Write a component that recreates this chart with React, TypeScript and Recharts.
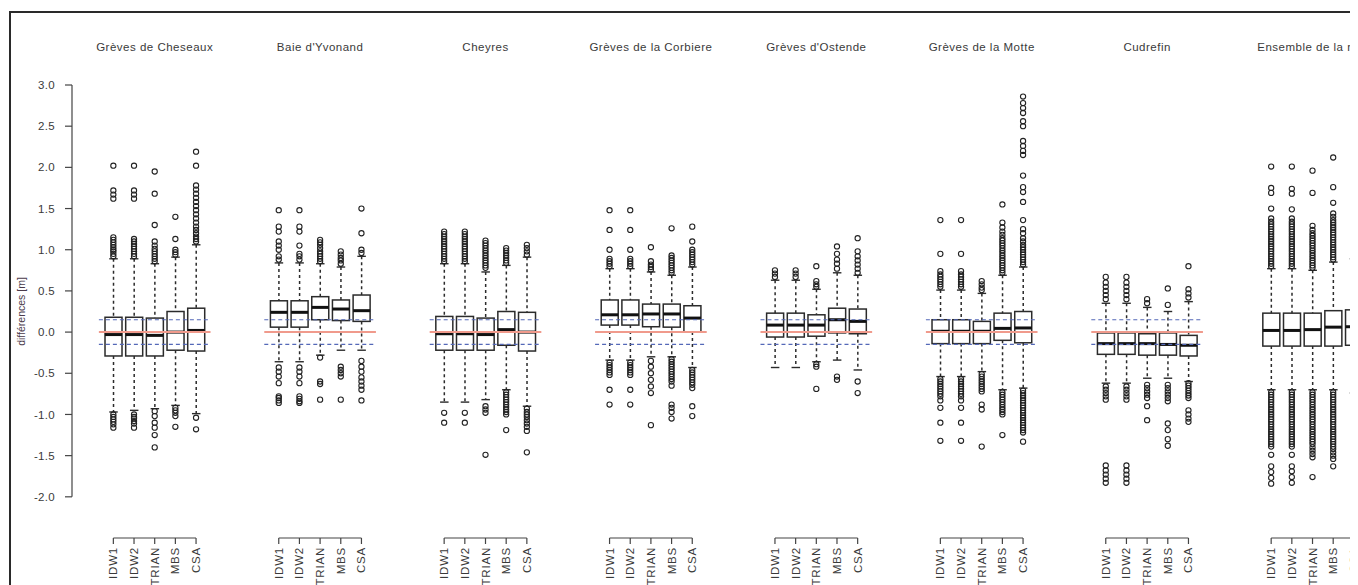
import { ComposedChart, Bar, Scatter, XAxis, YAxis, ReferenceLine } from "recharts";

const sites = [
  "Grèves de Cheseaux",
  "Baie d'Yvonand",
  "Cheyres",
  "Grèves de la Corbiere",
  "Grèves d'Ostende",
  "Grèves de la Motte",
  "Cudrefin",
  "Ensemble de la rive",
];
const methods = ["IDW1", "IDW2", "TRIAN", "MBS", "CSA"];
const yTicks = [-2, -1.5, -1, -0.5, 0, 0.5, 1, 1.5, 2, 2.5, 3];
const tolerance = 0.15;

// [lower whisker, Q1, median, Q3, upper whisker] for IDW1, IDW2, TRIAN, MBS, CSA
const cheseauxBoxes = [
  [-0.97, -0.29, -0.03, 0.18, 0.89],
  [-0.95, -0.29, -0.03, 0.18, 0.89],
  [-0.93, -0.29, -0.04, 0.17, 0.83],
  [-0.89, -0.22, 0.0, 0.25, 0.91],
  [-0.99, -0.23, 0.02, 0.29, 1.06],
];
const yvonandBoxes = [
  [-0.36, 0.06, 0.24, 0.38, 0.84],
  [-0.36, 0.06, 0.24, 0.38, 0.84],
  [-0.28, 0.15, 0.3, 0.43, 0.83],
  [-0.22, 0.14, 0.28, 0.39, 0.79],
  [-0.22, 0.13, 0.26, 0.45, 0.92],
];
const cheyresBoxes = [
  [-0.85, -0.22, -0.02, 0.19, 0.83],
  [-0.85, -0.22, -0.02, 0.19, 0.83],
  [-0.82, -0.22, -0.03, 0.17, 0.73],
  [-0.7, -0.16, 0.03, 0.25, 0.81],
  [-0.9, -0.23, 0.0, 0.24, 0.91],
];
const corbiereBoxes = [
  [-0.34, 0.085, 0.21, 0.39, 0.77],
  [-0.34, 0.085, 0.21, 0.39, 0.77],
  [-0.3, 0.065, 0.22, 0.34, 0.73],
  [-0.3, 0.06, 0.22, 0.34, 0.69],
  [-0.43, 0.0, 0.17, 0.32, 0.79],
];
const ostendeBoxes = [
  [-0.43, -0.06, 0.085, 0.23, 0.63],
  [-0.43, -0.06, 0.085, 0.23, 0.63],
  [-0.36, -0.05, 0.085, 0.21, 0.52],
  [-0.34, -0.01, 0.15, 0.29, 0.72],
  [-0.46, -0.02, 0.13, 0.28, 0.69],
];
const motteBoxes = [
  [-0.54, -0.14, 0.01, 0.15, 0.51],
  [-0.54, -0.14, 0.01, 0.15, 0.51],
  [-0.48, -0.14, 0.01, 0.13, 0.47],
  [-0.7, -0.1, 0.045, 0.23, 0.69],
  [-0.68, -0.13, 0.05, 0.25, 0.79],
];
const cudrefinBoxes = [
  [-0.62, -0.27, -0.14, -0.01, 0.35],
  [-0.62, -0.27, -0.14, -0.01, 0.35],
  [-0.56, -0.28, -0.14, -0.02, 0.3],
  [-0.56, -0.28, -0.15, -0.01, 0.25],
  [-0.6, -0.29, -0.16, -0.04, 0.37],
];
const ensembleBoxes = [
  [-0.7, -0.17, 0.02, 0.23, 0.77],
  [-0.7, -0.17, 0.02, 0.23, 0.77],
  [-0.7, -0.17, 0.03, 0.23, 0.75],
  [-0.7, -0.17, 0.06, 0.26, 0.85],
  [-0.74, -0.16, 0.065, 0.27, 0.89],
];

// outliers, same method order
const cheseauxOut = [
  [0.92, 0.95, 0.98, 1.0, 1.03, 1.06, 1.09, 1.12, 1.15, 1.62, 1.67, 1.72, 2.02, -1.0, -1.03, -1.06, -1.09, -1.12, -1.16],
  [0.92, 0.95, 0.98, 1.01, 1.04, 1.07, 1.1, 1.13, 1.62, 1.67, 1.72, 2.02, -1.0, -1.03, -1.05, -1.08, -1.11, -1.16],
  [0.86, 0.89, 0.92, 0.95, 0.98, 1.01, 1.05, 1.1, 1.3, 1.68, 1.95, -0.96, -1.02, -1.1, -1.16, -1.25, -1.4],
  [0.94, 0.97, 1.0, 1.13, 1.4, -0.92, -0.95, -0.98, -1.02, -1.15],
  [1.1, 1.13, 1.16, 1.2, 1.24, 1.28, 1.33, 1.38, 1.43, 1.48, 1.53, 1.58, 1.63, 1.68, 1.73, 1.78, 2.02, 2.19, -1.04, -1.18],
];
const yvonandOut = [
  [0.88, 0.92, 1.0, 1.05, 1.1, 1.22, 1.28, 1.48, -0.43, -0.48, -0.54, -0.62, -0.78, -0.8, -0.83, -0.86],
  [0.88, 0.92, 0.95, 1.05, 1.22, 1.28, 1.48, -0.43, -0.48, -0.54, -0.62, -0.78, -0.81, -0.84, -0.86],
  [0.86, 0.89, 0.92, 0.95, 0.98, 1.02, 1.06, 1.09, 1.12, -0.31, -0.6, -0.63, -0.82],
  [0.83, 0.87, 0.9, 0.94, 0.98, -0.42, -0.46, -0.5, -0.54, -0.82],
  [0.96, 1.0, 1.2, 1.5, -0.35, -0.42, -0.48, -0.55, -0.6, -0.65, -0.7, -0.83],
];
const cheyresOut = [
  [0.86, 0.89, 0.92, 0.95, 0.98, 1.01, 1.04, 1.07, 1.1, 1.13, 1.16, 1.19, 1.22, -0.98, -1.1],
  [0.86, 0.89, 0.92, 0.95, 0.98, 1.01, 1.04, 1.07, 1.1, 1.13, 1.16, 1.19, 1.22, -0.98, -1.1],
  [0.78, 0.81, 0.84, 0.87, 0.9, 0.93, 0.96, 0.99, 1.02, 1.05, 1.08, 1.11, -0.9, -0.94, -0.98, -1.49],
  [0.84, 0.87, 0.9, 0.93, 0.96, 0.99, 1.02, -0.73, -0.76, -0.79, -0.82, -0.85, -0.88, -0.91, -0.94, -0.97, -1.0, -1.19],
  [0.94, 0.98, 1.02, 1.06, -0.93, -0.97, -1.0, -1.03, -1.07, -1.11, -1.15, -1.2, -1.46],
];
const corbiereOut = [
  [0.8, 0.83, 0.86, 0.89, 1.0, 1.24, 1.48, -0.37, -0.4, -0.43, -0.46, -0.49, -0.52, -0.7, -0.88],
  [0.8, 0.83, 0.86, 0.89, 1.0, 1.24, 1.48, -0.37, -0.4, -0.43, -0.46, -0.49, -0.52, -0.7, -0.88],
  [0.76, 0.79, 0.82, 0.86, 1.03, -0.35, -0.42, -0.5, -0.58, -0.66, -0.74, -1.13],
  [0.72, 0.75, 0.78, 0.81, 0.84, 0.87, 0.9, 0.93, 1.26, -0.33, -0.36, -0.39, -0.42, -0.45, -0.48, -0.51, -0.54, -0.57, -0.6, -0.65, -0.88, -0.92, -0.97, -1.05],
  [0.82, 0.85, 0.88, 0.91, 0.94, 0.97, 1.0, 1.1, 1.28, -0.46, -0.49, -0.52, -0.55, -0.58, -0.61, -0.64, -0.68, -0.9, -1.02],
];
const ostendeOut = [
  [0.67, 0.71, 0.75],
  [0.67, 0.71, 0.75],
  [0.55, 0.58, 0.62, 0.8, -0.39, -0.42, -0.69],
  [0.77, 0.83, 0.88, 0.95, 1.04, -0.54, -0.58],
  [0.72, 0.77, 0.82, 0.87, 0.92, 0.98, 1.14, -0.6, -0.74],
];
const motteOut = [
  [0.55, 0.58, 0.61, 0.64, 0.67, 0.7, 0.74, 0.95, 1.36, -0.57, -0.6, -0.63, -0.66, -0.69, -0.72, -0.75, -0.78, -0.83, -0.92, -1.1, -1.32],
  [0.55, 0.58, 0.61, 0.64, 0.67, 0.7, 0.74, 0.95, 1.36, -0.57, -0.6, -0.63, -0.66, -0.69, -0.72, -0.75, -0.78, -0.83, -0.92, -1.1, -1.32],
  [0.51, 0.54, 0.58, 0.62, -0.51, -0.54, -0.57, -0.6, -0.63, -0.66, -0.69, -0.72, -0.88, -0.94, -1.39],
  [0.72, 0.75, 0.78, 0.81, 0.84, 0.87, 0.9, 0.93, 0.96, 0.99, 1.02, 1.05, 1.08, 1.11, 1.14, 1.18, 1.22, 1.27, 1.33, 1.55,
    -0.73, -0.76, -0.79, -0.82, -0.85, -0.88, -0.91, -0.94, -0.97, -1.0, -1.25],
  [0.82, 0.85, 0.88, 0.91, 0.94, 0.97, 1.0, 1.03, 1.06, 1.1, 1.14, 1.2, 1.25, 1.36, 1.58, 1.7, 1.76, 1.9, 2.15, 2.2, 2.26, 2.32, 2.5, 2.56, 2.66, 2.72, 2.78, 2.86,
    -0.71, -0.74, -0.77, -0.8, -0.83, -0.86, -0.89, -0.92, -0.95, -0.98, -1.01, -1.04, -1.07, -1.1, -1.13, -1.16, -1.19, -1.22, -1.33],
];
const cudrefinOut = [
  [0.4, 0.45, 0.5, 0.55, 0.6, 0.67, -0.66, -0.7, -0.74, -0.78, -0.82, -1.62, -1.68, -1.73, -1.78, -1.83],
  [0.4, 0.45, 0.5, 0.55, 0.6, 0.67, -0.66, -0.7, -0.74, -0.78, -0.82, -1.62, -1.68, -1.73, -1.78, -1.83],
  [0.35, 0.4, -0.64, -0.68, -0.72, -0.76, -0.8, -0.9, -1.07],
  [0.33, 0.53, -0.64, -0.68, -0.72, -0.76, -0.8, -0.84, -1.11, -1.19, -1.3, -1.38],
  [0.42, 0.47, 0.52, 0.8, -0.62, -0.65, -0.68, -0.71, -0.74, -0.77, -0.8, -0.95, -1.0, -1.05, -1.09],
];
const ensembleOut = [
  [0.8, 0.83, 0.86, 0.89, 0.92, 0.95, 0.98, 1.01, 1.04, 1.07, 1.1, 1.13, 1.16, 1.19, 1.22, 1.25, 1.28, 1.31, 1.34, 1.38, 1.5, 1.69, 1.75, 2.01,
    -0.73, -0.76, -0.79, -0.82, -0.85, -0.88, -0.91, -0.94, -0.97, -1.0, -1.03, -1.06, -1.09, -1.12, -1.15, -1.18, -1.21, -1.24, -1.27, -1.3, -1.33, -1.36, -1.39, -1.49, -1.63, -1.7, -1.77, -1.84],
  [0.8, 0.83, 0.86, 0.89, 0.92, 0.95, 0.98, 1.01, 1.04, 1.07, 1.1, 1.13, 1.16, 1.19, 1.22, 1.25, 1.28, 1.31, 1.34, 1.38, 1.49, 1.68, 1.74, 2.01,
    -0.73, -0.76, -0.79, -0.82, -0.85, -0.88, -0.91, -0.94, -0.97, -1.0, -1.03, -1.06, -1.09, -1.12, -1.15, -1.18, -1.21, -1.24, -1.27, -1.3, -1.33, -1.36, -1.39, -1.49, -1.63, -1.69, -1.76, -1.83],
  [0.78, 0.81, 0.84, 0.87, 0.9, 0.93, 0.96, 0.99, 1.02, 1.05, 1.08, 1.11, 1.14, 1.17, 1.2, 1.24, 1.29, 1.69, 1.96,
    -0.73, -0.76, -0.79, -0.82, -0.85, -0.88, -0.91, -0.94, -0.97, -1.0, -1.03, -1.06, -1.09, -1.12, -1.15, -1.18, -1.21, -1.24, -1.27, -1.3, -1.33, -1.36, -1.4, -1.44, -1.48, -1.52, -1.76],
  [0.88, 0.91, 0.94, 0.97, 1.0, 1.03, 1.06, 1.09, 1.12, 1.15, 1.18, 1.21, 1.24, 1.27, 1.3, 1.33, 1.36, 1.4, 1.44, 1.57, 1.76, 2.12,
    -0.73, -0.76, -0.79, -0.82, -0.85, -0.88, -0.91, -0.94, -0.97, -1.0, -1.03, -1.06, -1.09, -1.12, -1.15, -1.18, -1.21, -1.24, -1.27, -1.3, -1.33, -1.36, -1.39, -1.42, -1.46, -1.5, -1.54, -1.63],
  [0.92, 0.95, 0.98, 1.01, 1.04, 1.07, 1.1, 1.13, 1.16, 1.19, 1.22, 1.25, 1.28, 1.31, 1.34, 1.37, 1.4, 1.43, 1.46, 1.49, 1.52, 1.55, 1.58, 1.61, 1.64, 1.67, 1.7, 1.73, 1.78, 1.84, 1.94, 2.03,
    2.12, 2.17, 2.22, 2.27, 2.33, 2.39, 2.54, 2.6, 2.66, 2.72, 2.78, 2.88,
    -0.77, -0.8, -0.83, -0.86, -0.89, -0.92, -0.95, -0.98, -1.01, -1.04, -1.07, -1.1, -1.13, -1.16, -1.19, -1.22, -1.25, -1.28, -1.31, -1.34, -1.37, -1.4, -1.43, -1.46, -1.5, -1.57, -1.71],
];

const allBoxes = [cheseauxBoxes, yvonandBoxes, cheyresBoxes, corbiereBoxes, ostendeBoxes, motteBoxes, cudrefinBoxes, ensembleBoxes];
const allOutliers = [cheseauxOut, yvonandOut, cheyresOut, corbiereOut, ostendeOut, motteOut, cudrefinOut, ensembleOut];

const SLOT = 8; // each site takes 8 slots on the x axis, 5 boxes + gap
const boxRows = allBoxes.flatMap((site, s) =>
  site.map((st, m) => ({ x: s * SLOT + m, range: [st[1], st[3]], stats: st }))
);
const outlierRows = allOutliers.flatMap((site, s) =>
  site.flatMap((vals, m) => vals.map(v => ({ x: s * SLOT + m, y: v })))
);
const boxTicks = boxRows.map(r => r.x);
const titleTicks = sites.map((_, s) => s * SLOT + 2);

const FONT = "'Liberation Sans', Arial, sans-serif";
const INK = "#2b2b2b";

const BoxShape = (props: any) => {
  const { x, y, width, height, payload } = props;
  const top = Math.min(y, y + height);
  const h = Math.abs(height);
  const [lo, q1, med, q3, hi] = payload.stats;
  const k = h / (q3 - q1);
  const py = (v: number) => top + (q3 - v) * k;
  const cx = x + width / 2;
  const cap = width / 4;
  return (
    <g>
      <line x1={cx} x2={cx} y1={py(hi)} y2={top} stroke={INK} strokeWidth={1.5} strokeDasharray="3 3" />
      <line x1={cx} x2={cx} y1={top + h} y2={py(lo)} stroke={INK} strokeWidth={1.5} strokeDasharray="3 3" />
      <line x1={cx - cap} x2={cx + cap} y1={py(hi)} y2={py(hi)} stroke={INK} strokeWidth={1.4} />
      <line x1={cx - cap} x2={cx + cap} y1={py(lo)} y2={py(lo)} stroke={INK} strokeWidth={1.4} />
      <rect x={x} y={top} width={width} height={h} fill="none" stroke={INK} strokeWidth={1.5} />
      <line x1={x} x2={x + width} y1={py(med)} y2={py(med)} stroke="#111" strokeWidth={3} />
    </g>
  );
};

const OutlierDot = (props: any) => (
  <circle cx={props.cx} cy={props.cy} r={2.6} fill="none" stroke="#222" strokeWidth={1.1} />
);

const TitleTick = (props: any) => {
  const { x, y, payload } = props;
  const name = sites[Math.round((payload.value - 2) / SLOT)];
  return (
    <text x={x} y={y - 26} textAnchor="middle" fontSize={11.5} fill="#3a3a3a" fontFamily={FONT} letterSpacing={0.5}>
      {name}
    </text>
  );
};

const MethodTick = (props: any) => {
  const { x, y, payload } = props;
  return (
    <text x={x} y={y} dy="0.35em" transform={`rotate(-90, ${x}, ${y})`} textAnchor="end"
      fontSize={11.5} fill="#3a3a3a" fontFamily={FONT} letterSpacing={0.8}>
      {methods[payload.value % SLOT]}
    </text>
  );
};

export default function App() {
  return (
    <div style={{ position: "relative", width: 1350, height: 577, overflow: "hidden", background: "#fff" }}>
      <div style={{ position: "absolute", left: 1, top: 3, width: 1500, height: 800, border: "2px solid #2a2a2a" }} />
      <div style={{ position: "absolute", left: 0, top: 0 }}>
        <ComposedChart width={1350} height={577} data={boxRows} margin={{ top: 47, right: 0, bottom: 7, left: 0 }}>
          <XAxis xAxisId="top" orientation="top" type="number" dataKey="x" domain={[-2, 60.2]} allowDataOverflow
            ticks={titleTicks} height={30} axisLine={false} tickLine={false} tick={<TitleTick />} interval={0} />
          <XAxis xAxisId="main" type="number" dataKey="x" domain={[-2, 60.2]} allowDataOverflow
            ticks={boxTicks} height={40} axisLine={false} tickSize={6} tickMargin={3}
            tickLine={{ stroke: "#444", strokeWidth: 1.2 }} tick={<MethodTick />} interval={0} />
          <YAxis type="number" domain={[-2.5, 3]} allowDataOverflow ticks={yTicks} width={64}
            axisLine={false} tickSize={7} tickMargin={10} tickLine={{ stroke: "#444", strokeWidth: 1.2 }}
            tick={{ fontSize: 11.5, fill: "#3a3a3a", fontFamily: FONT, letterSpacing: 0.3 }}
            tickFormatter={(v: number) => v.toFixed(1)}
            label={{ value: "différences [m]", angle: -90, position: "insideLeft", offset: 13,
              style: { textAnchor: "middle", fontSize: 10.5, fill: "#4a3a4a", fontFamily: FONT } }} />
          <Bar xAxisId="main" dataKey="range" barSize={17} shape={<BoxShape />} isAnimationActive={false} />
          <Scatter xAxisId="main" data={outlierRows} dataKey="y" shape={<OutlierDot />} isAnimationActive={false} />
          <ReferenceLine xAxisId="main" segment={[{ x: -2, y: -2 }, { x: -2, y: 3 }]} stroke="#444" strokeWidth={1.2} />
          {sites.map((_, s) => (
            <ReferenceLine key={`ax${s}`} xAxisId="main" segment={[{ x: s * SLOT, y: -2.5 }, { x: s * SLOT + 4, y: -2.5 }]}
              stroke="#444" strokeWidth={1.2} />
          ))}
          {sites.map((_, s) => (
            <ReferenceLine key={`r${s}`} xAxisId="main" segment={[{ x: s * SLOT - 0.7, y: 0 }, { x: s * SLOT + 4.7, y: 0 }]}
              stroke="#f09a8c" strokeWidth={2} />
          ))}
          {sites.map((_, s) => (
            <ReferenceLine key={`u${s}`} xAxisId="main" segment={[{ x: s * SLOT - 0.7, y: tolerance }, { x: s * SLOT + 4.7, y: tolerance }]}
              stroke="#5468b8" strokeWidth={1.2} strokeDasharray="4 3" />
          ))}
          {sites.map((_, s) => (
            <ReferenceLine key={`d${s}`} xAxisId="main" segment={[{ x: s * SLOT - 0.7, y: -tolerance }, { x: s * SLOT + 4.7, y: -tolerance }]}
              stroke="#5468b8" strokeWidth={1.2} strokeDasharray="4 3" />
          ))}
        </ComposedChart>
      </div>
    </div>
  );
}
